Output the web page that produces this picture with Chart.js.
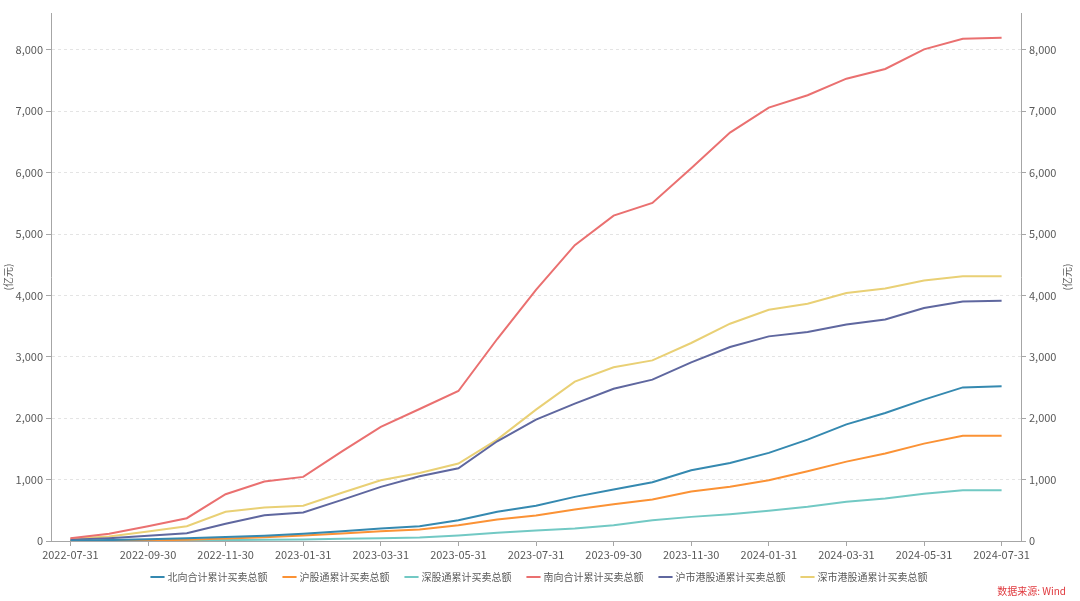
<!DOCTYPE html>
<html>
<head>
<meta charset="utf-8">
<script src="https://cdn.jsdelivr.net/npm/chart.js@4.4.1/dist/chart.umd.min.js"></script>
<style>
    body { margin: 0; background: #fff; }
    #wrap { position: relative; width: 1080px; height: 601px; }
    #source {
        position: absolute; right: 14px; top: 583px;
        color: #e0393e; font: 10px "Noto Sans CJK SC", sans-serif;
    }
</style>
</head>
<body>
<div id="wrap">
    <canvas id="chart" width="1080" height="601"></canvas>
    <div id="source">数据来源: Wind</div>
</div>
<script>
// month-end dates
const dates = ['2022-07-31', '2022-08-31', '2022-09-30', '2022-10-31', '2022-11-30', '2022-12-31',
    '2023-01-31', '2023-02-28', '2023-03-31', '2023-04-30', '2023-05-31', '2023-06-30',
    '2023-07-31', '2023-08-31', '2023-09-30', '2023-10-31', '2023-11-30', '2023-12-31',
    '2024-01-31', '2024-02-29', '2024-03-31', '2024-04-30', '2024-05-31', '2024-06-30', '2024-07-31'];

// 亿元
const northTotal = [5, 15, 30, 45, 65, 85, 118, 160, 203, 241, 338, 475, 573, 719, 840, 957, 1152, 1272, 1435, 1651, 1900, 2086, 2302, 2502, 2519];
const shConnect = [2, 5, 10, 20, 40, 60, 90, 122, 160, 187, 257, 350, 415, 513, 600, 675, 805, 882, 989, 1136, 1293, 1424, 1586, 1716, 1716];
const szConnect = [2, 4, 7, 10, 15, 20, 25, 36, 46, 57, 89, 133, 171, 203, 255, 338, 393, 436, 491, 556, 638, 691, 768, 827, 827];
const southTotal = [45, 117, 240, 371, 762, 968, 1044, 1460, 1858, 2150, 2443, 3290, 4092, 4819, 5300, 5507, 6072, 6652, 7058, 7260, 7530, 7688, 8008, 8181, 8197];
const shHk = [20, 46, 85, 127, 280, 420, 464, 670, 882, 1054, 1185, 1624, 1977, 2237, 2480, 2628, 2910, 3160, 3333, 3404, 3525, 3609, 3794, 3902, 3913];
const szHk = [36, 73, 155, 241, 475, 545, 573, 785, 989, 1109, 1261, 1651, 2140, 2595, 2830, 2942, 3225, 3539, 3767, 3864, 4038, 4113, 4243, 4314, 4314];

const yTicks = [0, 1000, 2000, 3000, 4000, 5000, 6000, 7000, 8000];
const yMax = 8600;
const unitLabel = '(亿元)';

const fontFamily = '"Noto Sans CJK SC", "Noto Sans", sans-serif';
const textColor = '#595959';
const axisColor = '#a6a6a6';

function makeSet(label, data, color) {
    return {
        label: label,
        data: data,
        borderColor: color,
        backgroundColor: color,
        borderWidth: 2,
        pointRadius: 0,
        pointHoverRadius: 0,
        tension: 0,
        fill: false
    };
}

// both unit titles are written bottom-to-top, like the original
const unitTitles = {
    id: 'unitTitles',
    afterDraw(chart) {
        const ctx = chart.ctx;
        const mid = (chart.chartArea.top + chart.chartArea.bottom) / 2;
        ctx.save();
        ctx.font = '10px ' + fontFamily;
        ctx.fillStyle = textColor;
        ctx.textAlign = 'center';
        ctx.textBaseline = 'middle';
        [8, 1067].forEach(x => {
            ctx.save();
            ctx.translate(x, mid);
            ctx.rotate(-Math.PI / 2);
            ctx.fillText(unitLabel, 0, 0);
            ctx.restore();
        });
        ctx.restore();
    }
};

function yAxis(position, width) {
    return {
        type: 'linear',
        position: position,
        min: 0,
        max: yMax,
        afterBuildTicks: scale => {
            scale.ticks = yTicks.map(v => ({ value: v }));
        },
        afterFit: scale => { scale.width = width; },
        ticks: {
            color: textColor,
            font: { family: fontFamily, size: 11 },
            padding: 3,
            callback: v => v.toLocaleString('en-US')
        },
        grid: {
            drawOnChartArea: position === 'left',
            color: '#e4e4e4',
            tickLength: 5,
            tickColor: axisColor,
            tickBorderDash: []
        },
        border: { color: axisColor, width: 1, dash: [3, 3] }
    };
}

new Chart(document.getElementById('chart'), {
    type: 'line',
    data: {
        labels: dates,
        datasets: [
            makeSet('北向合计累计买卖总额', northTotal, '#3589b0'),
            makeSet('沪股通累计买卖总额', shConnect, '#fb9235'),
            makeSet('深股通累计买卖总额', szConnect, '#72c9c4'),
            makeSet('南向合计累计买卖总额', southTotal, '#ea7070'),
            makeSet('沪市港股通累计买卖总额', shHk, '#5f679f'),
            makeSet('深市港股通累计买卖总额', szHk, '#e9d075')
        ]
    },
    options: {
        responsive: false,
        animation: false,
        layout: { padding: { top: 13, left: 0, right: 0, bottom: 9 } },
        plugins: {
            legend: {
                position: 'bottom',
                labels: {
                    usePointStyle: true,
                    pointStyle: 'line',
                    boxWidth: 18,
                    padding: 17,
                    color: textColor,
                    font: { family: fontFamily, size: 10 }
                }
            },
            tooltip: { enabled: false }
        },
        scales: {
            x: {
                type: 'category',
                offset: true,
                afterFit: scale => {
                    scale.height = 14;
                    // labels hang below the thin axis box, so don't clip them to it
                    scale._computeLabelArea = () => undefined;
                },
                ticks: {
                    autoSkip: false,
                    maxRotation: 0,
                    color: textColor,
                    font: { family: fontFamily, size: 11 },
                    padding: 2,
                    callback: (v, i) => (i % 2 === 0 ? dates[i] : null)
                },
                grid: {
                    offset: false,
                    drawOnChartArea: false,
                    tickLength: 5,
                    color: axisColor
                },
                border: { color: axisColor, width: 1 }
            },
            y: yAxis('left', 51),
            y2: yAxis('right', 59)
        }
    },
    plugins: [unitTitles]
});
</script>
</body>
</html>
